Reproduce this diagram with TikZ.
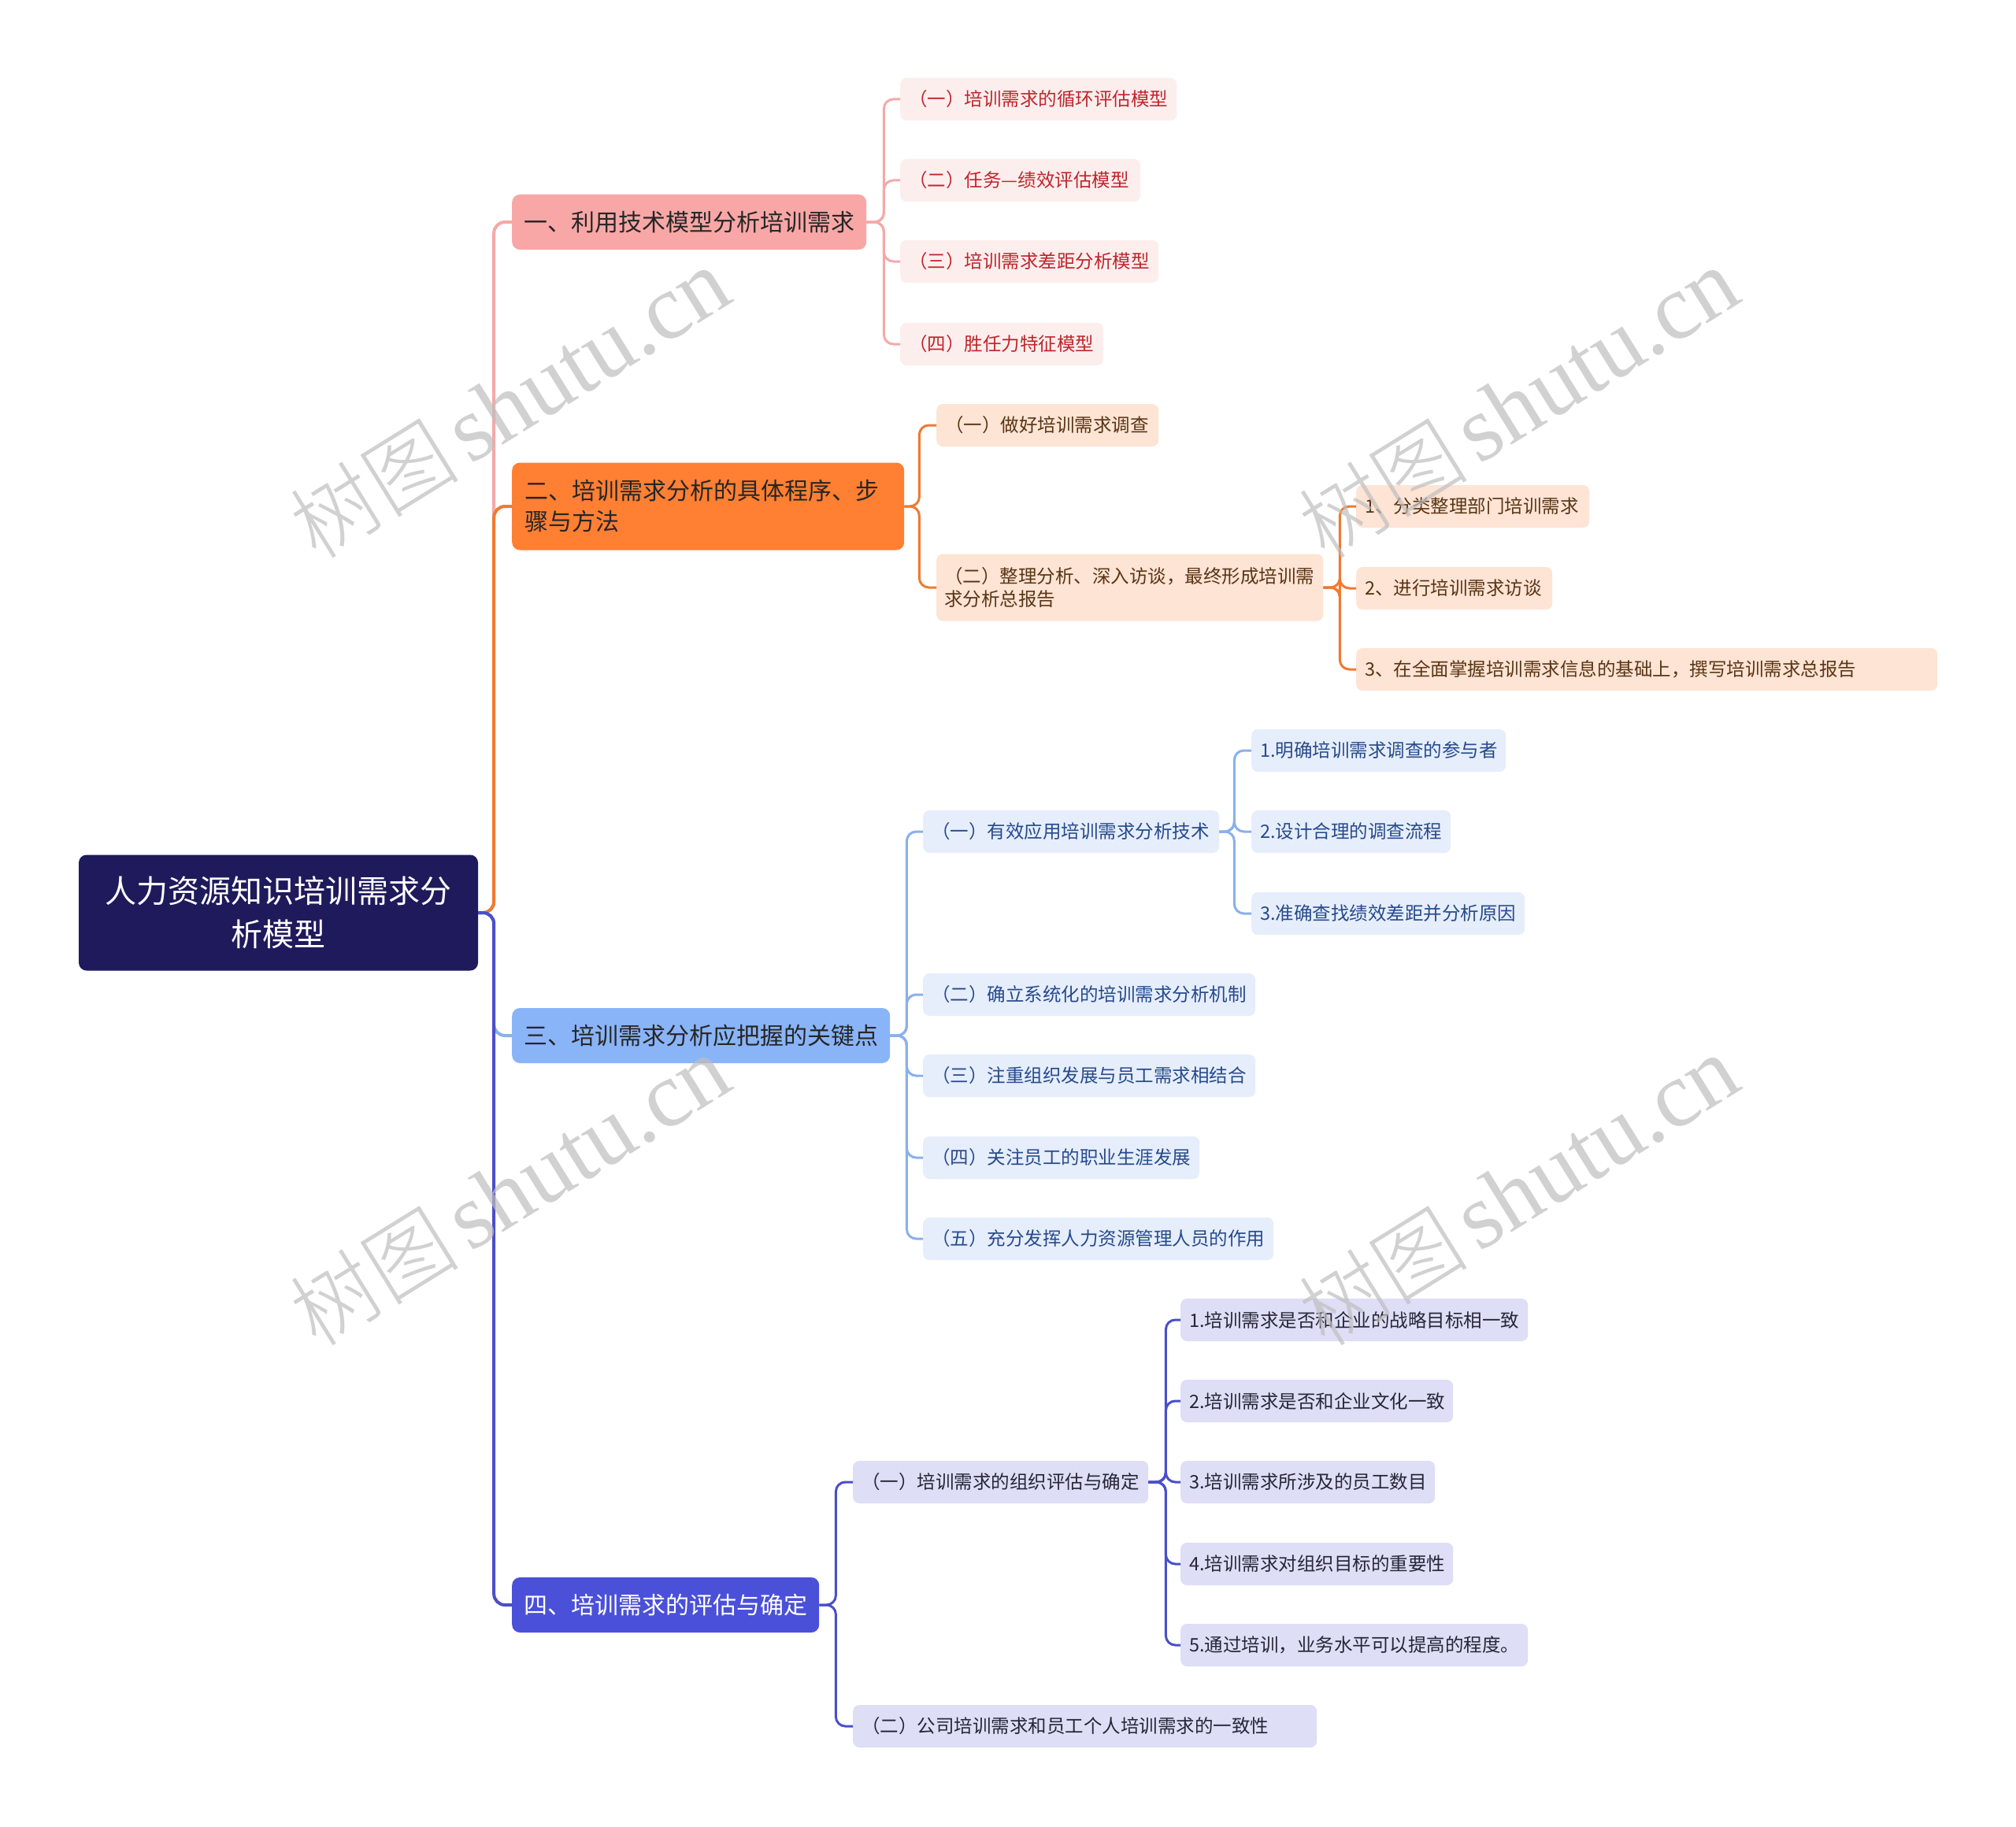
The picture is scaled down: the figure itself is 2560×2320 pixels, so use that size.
\documentclass[tikz,border=0pt]{standalone}
\usepackage{fontspec}
\setmainfont{Noto Sans CJK SC}
\newfontfamily\wmserif{Liberation Serif}
\newfontfamily\wmcjk{Noto Sans CJK SC Light}
\definecolor{rootfill}{HTML}{1E1A5C}
\definecolor{pkfill}{HTML}{F8A7A6}
\definecolor{pkline}{HTML}{F4A9A8}
\definecolor{pkleaf}{HTML}{FDEEEE}
\definecolor{pktext}{HTML}{C0252B}
\definecolor{orfill}{HTML}{FF7F33}
\definecolor{orline}{HTML}{EE7A33}
\definecolor{orleaf}{HTML}{FDE4D5}
\definecolor{ortext}{HTML}{5A3514}
\definecolor{blfill}{HTML}{8AB4F8}
\definecolor{blline}{HTML}{8AB0EC}
\definecolor{blleaf}{HTML}{E6EEFC}
\definecolor{bltext}{HTML}{274A8C}
\definecolor{pufill}{HTML}{4A50D8}
\definecolor{puline}{HTML}{4A4FC9}
\definecolor{puleaf}{HTML}{DEDEF7}
\definecolor{putext}{HTML}{262638}
\definecolor{wmgray}{RGB}{190,190,190}
\tikzset{
  rootbox/.style={fill=rootfill, text=white, rounded corners=10, inner sep=0,
    minimum width=507, minimum height=147, align=center,
    font=\fontsize{40}{55}\selectfont},
  lvone/.style={rounded corners=10, anchor=west, inner xsep=15, inner ysep=0,
    minimum height=70, font=\fontsize{30}{39}\selectfont, text=black!85},
  leaf/.style={rounded corners=8, anchor=west, inner xsep=11, inner ysep=0,
    minimum height=54, align=left, font=\fontsize{23.5}{29}\selectfont},
  pkleafs/.style={leaf, fill=pkleaf, text=pktext},
  orleafs/.style={leaf, fill=orleaf, text=ortext},
  blleafs/.style={leaf, fill=blleaf, text=bltext},
  puleafs/.style={leaf, fill=puleaf, text=putext},
  conn/.style={line width=3, rounded corners=12},
  trunk/.style={line width=4, rounded corners=14},
  wm/.style={text=wmgray, text opacity=0.7, font=\fontsize{118}{120}\selectfont}
}
\newcommand{\wmtext}{{\wmcjk\fontsize{108}{120}\selectfont 树图}\hspace{14pt}{\wmserif shutu.cn}}
\begin{document}
\begin{tikzpicture}[x=1pt,y=-1pt]
\fill[white] (0,0) rectangle (2560,2320);
\path[use as bounding box] (0,0) rectangle (2560,2320);

% root
\node[rootbox] (root) at (353.5,1159) {人力资源知识培训需求分\\析模型};

% level 1
\node[lvone, fill=pkfill, minimum width=450] (b1) at (650,282) {一、利用技术模型分析培训需求};
\node[lvone, fill=orfill, minimum width=498, minimum height=111, text width=466, align=left, inner xsep=16] (b2) at (650,643) {二、培训需求分析的具体程序、步\\骤与方法};
\node[lvone, fill=blfill, minimum width=480] (b3) at (650,1315) {三、培训需求分析应把握的关键点};
\node[lvone, fill=pufill, minimum width=390, text=white] (b4) at (650,2038) {四、培训需求的评估与确定};

% branch 1 leaves
\node[pkleafs, text width=329] (c11) at (1143,126) {（一）培训需求的循环评估模型};
\node[pkleafs, text width=283] (c12) at (1143,229) {（二）任务—绩效评估模型};
\node[pkleafs, text width=306] (c13) at (1143,332) {（三）培训需求差距分析模型};
\node[pkleafs, text width=236] (c14) at (1143,437) {（四）胜任力特征模型};

% branch 2 leaves
\node[orleafs, text width=260] (c21) at (1189,540) {（一）做好培训需求调查};
\node[orleafs, text width=471, inner xsep=10, minimum height=85] (c22) at (1189,746) {（二）整理分析、深入访谈，最终形成培训需\\求分析总报告};
\node[orleafs, text width=274] (c221) at (1722,643) {1、分类整理部门培训需求};
\node[orleafs, text width=227] (c222) at (1722,747) {2、进行培训需求访谈};
\node[orleafs, text width=716] (c223) at (1722,850) {3、在全面掌握培训需求信息的基础上，撰写培训需求总报告};

% branch 3 leaves
\node[blleafs, text width=354] (c31) at (1172,1056) {（一）有效应用培训需求分析技术};
\node[blleafs, text width=400] (c32) at (1172,1263) {（二）确立系统化的培训需求分析机制};
\node[blleafs, text width=400] (c33) at (1172,1366) {（三）注重组织发展与员工需求相结合};
\node[blleafs, text width=329] (c34) at (1172,1470) {（四）关注员工的职业生涯发展};
\node[blleafs, text width=423] (c35) at (1172,1573) {（五）充分发挥人力资源管理人员的作用};
\node[blleafs, text width=301] (c311) at (1589,953) {1.明确培训需求调查的参与者};
\node[blleafs, text width=231] (c312) at (1589,1056) {2.设计合理的调查流程};
\node[blleafs, text width=325] (c313) at (1589,1160) {3.准确查找绩效差距并分析原因};

% branch 4 leaves
\node[puleafs, text width=353] (c41) at (1083,1882) {（一）培训需求的组织评估与确定};
\node[puleafs, text width=567] (c42) at (1083,2192) {（二）公司培训需求和员工个人培训需求的一致性};
\node[puleafs, text width=419] (c411) at (1499,1676) {1.培训需求是否和企业的战略目标相一致};
\node[puleafs, text width=324] (c412) at (1499,1779) {2.培训需求是否和企业文化一致};
\node[puleafs, text width=301] (c413) at (1499,1882) {3.培训需求所涉及的员工数目};
\node[puleafs, text width=324] (c414) at (1499,1986) {4.培训需求对组织目标的重要性};
\node[puleafs, text width=419] (c415) at (1499,2089) {5.通过培训，业务水平可以提高的程度。};

% connectors from root
\draw[trunk, pkline] (root.east) -- ++(20,0) |- (b1.west);
\draw[trunk, orline] (root.east) -- ++(20,0) |- (b2.west);
\draw[trunk, blline] (root.east) -- ++(20,0) |- (b3.west);
\draw[trunk, puline] (root.east) -- ++(20,0) |- (b4.west);

% branch 1
\foreach \c in {c11,c12,c13,c14}
  \draw[conn, pkline] (b1.east) -- ++(22,0) |- (\c.west);
% branch 2
\foreach \c in {c21,c22}
  \draw[conn, orline] (b2.east) -- ++(19,0) |- (\c.west);
\foreach \c in {c221,c222,c223}
  \draw[conn, orline] (c22.east) -- ++(21,0) |- (\c.west);
% branch 3
\foreach \c in {c31,c32,c33,c34,c35}
  \draw[conn, blline] (b3.east) -- ++(21,0) |- (\c.west);
\foreach \c in {c311,c312,c313}
  \draw[conn, blline] (c31.east) -- ++(19,0) |- (\c.west);
% branch 4
\foreach \c in {c41,c42}
  \draw[conn, puline] (b4.east) -- ++(21,0) |- (\c.west);
\foreach \c in {c411,c412,c413,c414,c415}
  \draw[conn, puline] (c41.east) -- ++(22,0) |- (\c.west);

% watermarks
\node[wm, rotate=31.8] (wm1) at (647,512) {\wmtext};
\node[wm, rotate=31.8] (wm2) at (1928,512) {\wmtext};
\node[wm, rotate=31.8] (wm3) at (647,1512) {\wmtext};
\node[wm, rotate=31.8] (wm4) at (1928,1512) {\wmtext};
\end{tikzpicture}
\end{document}
